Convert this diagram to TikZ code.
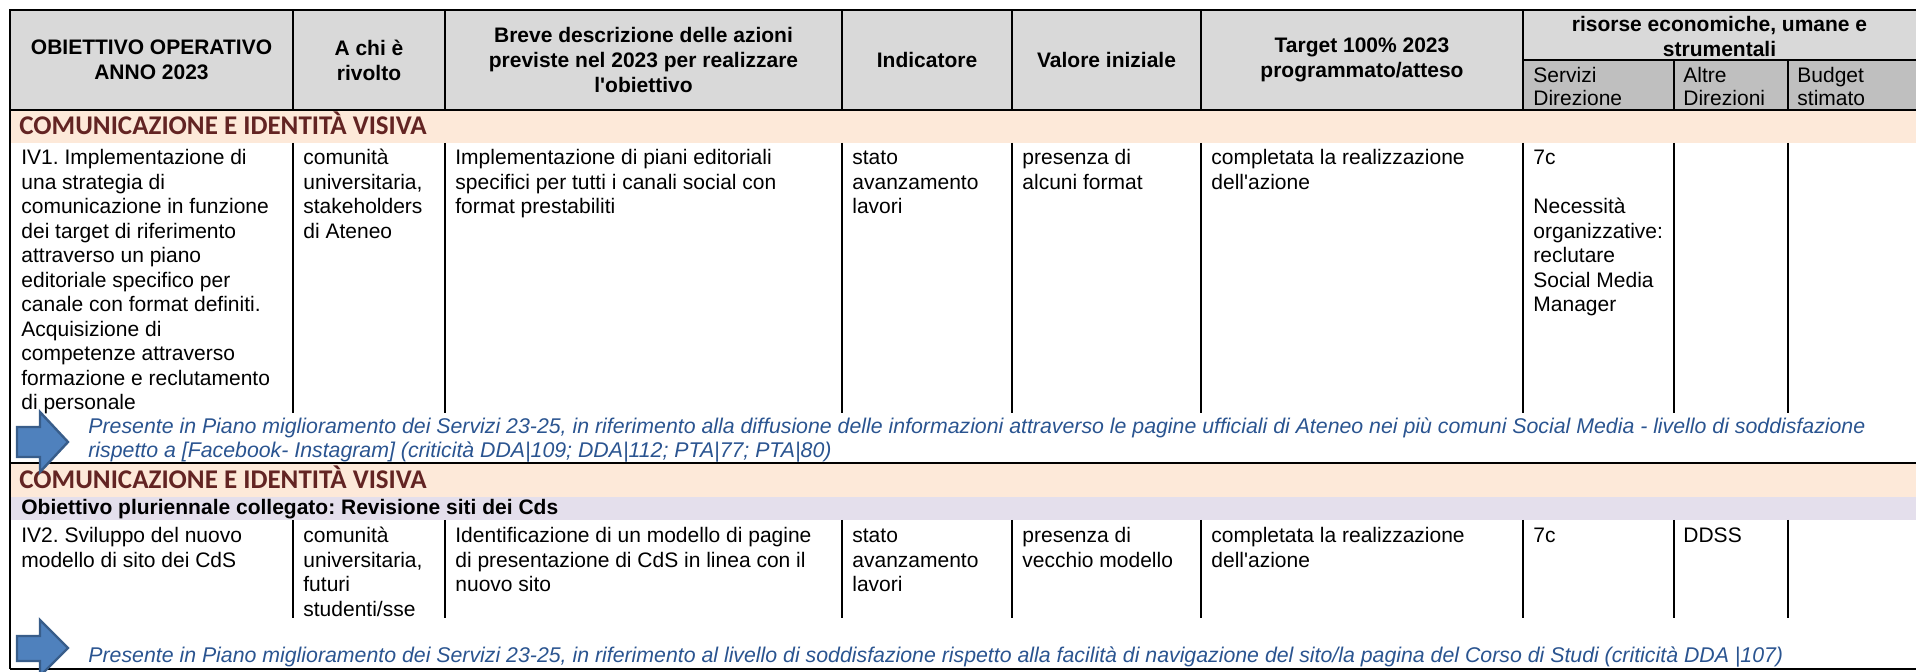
\documentclass[tikz,border=0pt]{standalone}
\usepackage{fontspec}
\setmainfont{Liberation Sans}
\newfontfamily\calibrifont{Carlito}
\newcommand\fls{\rule{0pt}{9pt}}
\frenchspacing
\definecolor{hdrgray}{HTML}{D9D9D9}
\definecolor{subgray}{HTML}{BFBFBF}
\definecolor{pinkrow}{HTML}{FDE9D9}
\definecolor{lavrow}{HTML}{E4DFEC}
\definecolor{sectred}{HTML}{632423}
\definecolor{noteblue}{HTML}{2A5490}
\definecolor{arrowfill}{HTML}{4F81BD}
\definecolor{arrowline}{HTML}{385D8A}
\begin{document}
\begin{tikzpicture}[x=0.5pt,y=-0.5pt,
  grid/.style={line width=1pt,black},
  hdr/.style={font=\bfseries\fontsize{10.5}{12.5}\selectfont,align=center,inner sep=0pt},
  subhdr/.style={anchor=north west,font=\fontsize{10.5}{11.75}\selectfont,align=left,inner sep=0pt},
  cell/.style={anchor=north west,font=\fontsize{10.5}{12.25}\selectfont,align=left,inner sep=0pt},
  sect/.style={anchor=base west,font=\calibrifont\bfseries\fontsize{13.5}{15}\selectfont,text=sectred,inner sep=0pt},
  linked/.style={anchor=base west,font=\bfseries\fontsize{10.5}{12.25}\selectfont,inner sep=0pt},
  note/.style={anchor=north west,font=\itshape\fontsize{10.65}{12}\selectfont,text=noteblue,align=left,inner sep=0pt},
  blockarrow/.style={fill=arrowfill,draw=arrowline,line width=1.2pt,line join=miter}]
\useasboundingbox (0,0) rectangle (1916,672);
% fills
\fill[hdrgray] (10,10) rectangle (1916,110);
\fill[subgray] (1523,60) rectangle (1916,110);
\fill[pinkrow] (10,110) rectangle (1916,143);
\fill[pinkrow] (10,463) rectangle (1916,497);
\fill[lavrow] (10,497) rectangle (1916,520);
% grid
\draw[grid] (10,10) -- (1916,10);
\draw[grid] (1523,60) -- (1916,60);
\draw[grid] (10,110) -- (1916,110);
\draw[grid] (10,463) -- (1916,463);
\draw[grid] (10,669) -- (1916,669);
\draw[grid] (10,9.5) -- (10,669.5);
\foreach \c in {293,445,842,1012,1201,1523} {\draw[grid] (\c,10) -- (\c,110);}
\foreach \c in {1674,1788} {\draw[grid] (\c,60) -- (\c,110);}
\foreach \c in {293,445,842,1012,1201,1523,1674,1788} {\draw[grid] (\c,143) -- (\c,413);}
\foreach \c in {293,445,842,1012,1201,1523,1674,1788} {\draw[grid] (\c,520) -- (\c,618);}
% header
\node[hdr] (h1) at (151.5,60) {OBIETTIVO OPERATIVO\\ANNO 2023};
\node[hdr] (h2) at (369,60) {A chi è\\rivolto};
\node[hdr] (h3) at (643.5,60) {Breve descrizione delle azioni\\previste nel 2023 per realizzare\\l\textquotesingle obiettivo};
\node[hdr] (h4) at (927,60) {Indicatore};
\node[hdr] (h5) at (1106.5,60) {Valore iniziale};
\node[hdr] (h6) at (1362,60) {Target 100\% 2023\\programmato/atteso};
\node[hdr] (h7) at (1719.5,37) {risorse economiche, umane e\\strumentali};
\node[subhdr] (s1) at (1533,64) {\fls Servizi\\Direzione};
\node[subhdr] (s2) at (1683,64) {\fls Altre\\Direzioni};
\node[subhdr] (s3) at (1797,64) {\fls Budget\\stimato};
% section 1
\node[sect] (sec1) at (19,135) {COMUNICAZIONE E IDENTITÀ VISIVA};
\node[cell] (r1c1) at (21,146.5) {\fls IV1. Implementazione di\\una strategia di\\comunicazione in funzione\\dei target di riferimento\\attraverso un piano\\editoriale specifico per\\canale con format definiti.\\Acquisizione di\\competenze attraverso\\formazione e reclutamento\\di personale};
\node[cell] (r1c2) at (303,146.5) {\fls comunità\\universitaria,\\stakeholders\\di Ateneo};
\node[cell] (r1c3) at (455,146.5) {\fls Implementazione di piani editoriali\\specifici per tutti i canali social con\\format prestabiliti};
\node[cell] (r1c4) at (852,146.5) {\fls stato\\avanzamento\\lavori};
\node[cell] (r1c5) at (1022,146.5) {\fls presenza di\\alcuni format};
\node[cell] (r1c6) at (1211,146.5) {\fls completata la realizzazione\\dell\textquotesingle azione};
\node[cell] (r1c7) at (1533,146.5) {\fls 7c\\[12.25pt]Necessità\\organizzative:\\reclutare\\Social Media\\Manager};
\node[note] (n1) at (88,415) {\fls Presente in Piano miglioramento dei Servizi 23-25, in riferimento alla diffusione delle informazioni attraverso le pagine ufficiali di Ateneo nei più comuni Social Media - livello di soddisfazione\\rispetto a [Facebook- Instagram] (criticità DDA|109; DDA|112; PTA|77; PTA|80)};
% section 2
\node[sect] (sec2) at (19,489) {COMUNICAZIONE E IDENTITÀ VISIVA};
\node[linked] (link2) at (21,515) {Obiettivo pluriennale collegato: Revisione siti dei Cds};
\node[cell] (r2c1) at (21,524.5) {\fls IV2. Sviluppo del nuovo\\modello di sito dei CdS};
\node[cell] (r2c2) at (303,524.5) {\fls comunità\\universitaria,\\futuri\\studenti/sse};
\node[cell] (r2c3) at (455,524.5) {\fls Identificazione di un modello di pagine\\di presentazione di CdS in linea con il\\nuovo sito};
\node[cell] (r2c4) at (852,524.5) {\fls stato\\avanzamento\\lavori};
\node[cell] (r2c5) at (1022,524.5) {\fls presenza di\\vecchio modello};
\node[cell] (r2c6) at (1211,524.5) {\fls completata la realizzazione\\dell\textquotesingle azione};
\node[cell] (r2c7) at (1533,524.5) {\fls 7c};
\node[cell] (r2c8) at (1683,524.5) {\fls DDSS};
\node[note] (n2) at (88,644) {\fls Presente in Piano miglioramento dei Servizi 23-25, in riferimento al livello di soddisfazione rispetto alla facilità di navigazione del sito/la pagina del Corso di Studi (criticità DDA |107)};
% arrows
\draw[blockarrow] (17,427) -- (40,427) -- (40,412) -- (68,442) -- (40,472) -- (40,457) -- (17,457) -- cycle;
\draw[blockarrow] (17,636) -- (40,636) -- (40,620) -- (68,648) -- (40,676) -- (40,661) -- (17,661) -- cycle;
\end{tikzpicture}
\end{document}
